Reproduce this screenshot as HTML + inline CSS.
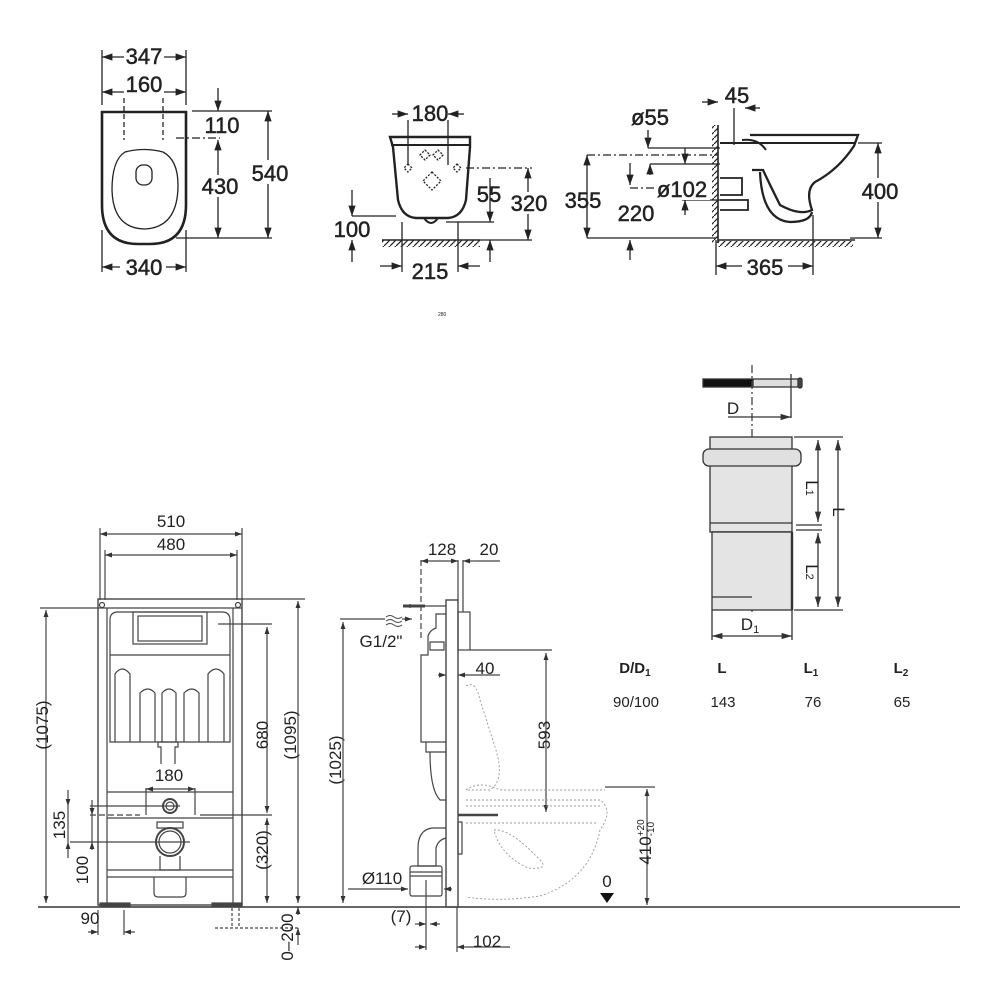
<!DOCTYPE html>
<html><head><meta charset="utf-8"><style>
html,body{margin:0;padding:0;background:#fff}
svg{display:block}
text{font-family:"Liberation Sans",Arial,sans-serif;fill:#222}
.tp text{stroke:#222;stroke-width:0.5}
</style></head><body>
<svg width="1000" height="1000" viewBox="0 0 1000 1000" xmlns="http://www.w3.org/2000/svg">
<defs>
<marker id="a" viewBox="0 0 10 10" refX="10" refY="5" markerWidth="8" markerHeight="8" orient="auto-start-reverse"><path d="M0,1.5L10,5L0,8.5z" fill="#222"/></marker>
<marker id="b" viewBox="0 0 10 10" refX="10" refY="5" markerWidth="6" markerHeight="6" orient="auto-start-reverse"><path d="M0,1.5L10,5L0,8.5z" fill="#333"/></marker>
<marker id="c" viewBox="0 0 10 10" refX="10" refY="5" markerWidth="8" markerHeight="8" orient="auto-start-reverse"><path d="M0,2L10,5L0,8z" fill="#333"/></marker>
<pattern id="h" width="6" height="6" patternUnits="userSpaceOnUse"><path d="M0,6L6,0" stroke="#222" stroke-width="1.2"/></pattern>
</defs>

<!-- ===== TOP LEFT: plan view ===== -->
<g stroke="#222" fill="none" stroke-width="1.3">
<path d="M102,112 H186 V205 Q186,244 150,244 H138 Q102,244 102,205 Z" stroke-width="2.6"/>
<path d="M125,152 Q144,147 163,152 Q178,160 178,185 Q178,228 144,229 Q113,228 112,190 Q112,160 125,152Z"/>
<rect x="136" y="165" width="16" height="20" rx="7"/>
<line x1="124" y1="98" x2="124" y2="140" stroke-dasharray="5,3"/>
<line x1="163" y1="98" x2="163" y2="140" stroke-dasharray="5,3"/>
<line x1="102" y1="50" x2="102" y2="105"/><line x1="186" y1="50" x2="186" y2="105"/>
<line x1="102" y1="57" x2="186" y2="57" marker-start="url(#a)" marker-end="url(#a)"/>
<line x1="102" y1="92" x2="186" y2="92" marker-start="url(#a)" marker-end="url(#a)"/>
<line x1="102" y1="230" x2="102" y2="272"/><line x1="186" y1="230" x2="186" y2="272"/>
<line x1="102" y1="267" x2="186" y2="267" marker-start="url(#a)" marker-end="url(#a)"/>
<line x1="192" y1="111" x2="272" y2="111"/><line x1="176" y1="138" x2="220" y2="138" stroke-dasharray="8,3,2,3"/>
<line x1="176" y1="238" x2="272" y2="238"/>
<line x1="218" y1="88" x2="218" y2="111" marker-end="url(#a)"/>
<line x1="218" y1="140" x2="218" y2="238" marker-start="url(#a)" marker-end="url(#a)"/>
<line x1="268" y1="111" x2="268" y2="238" marker-start="url(#a)" marker-end="url(#a)"/>
</g>
<g font-size="22" text-anchor="middle" class="tp">
<rect x="124" y="46" width="40" height="20" fill="#fff" stroke="none"/><text x="144" y="64">347</text>
<rect x="124" y="76" width="40" height="22" fill="#fff" stroke="none"/><text x="144" y="92">160</text>
<rect x="120" y="256" width="46" height="22" fill="#fff" stroke="none"/><text x="144" y="275">340</text>
<text x="222" y="133">110</text>
<rect x="200" y="175" width="40" height="22" fill="#fff" stroke="none"/><text x="220" y="194">430</text>
<rect x="248" y="160" width="44" height="24" fill="#fff" stroke="none"/><text x="270" y="181">540</text>
</g>

<!-- ===== TOP MIDDLE: front view ===== -->
<g stroke="#222" fill="none" stroke-width="1.3">
<path d="M390,137 H470 V147 L466,200 Q462,217 448,218 H416 Q402,217 398,200 L393,147 Z" stroke-width="2.4"/>
<line x1="391" y1="145" x2="470" y2="145" stroke-width="2"/>
<path d="M424,218 Q431,228 438,218" stroke-width="2"/>
<path d="M425,150 l5,5 l-5,5 l-5,-5z M438,150 l5,5 l-5,5 l-5,-5z M408,164 l4,4 l-4,4 l-4,-4z M457,164 l4,4 l-4,4 l-4,-4z M432,172 l9,9 l-9,9 l-9,-9z" stroke-dasharray="2,1.5"/>
<line x1="408" y1="120" x2="408" y2="165"/><line x1="448" y1="120" x2="448" y2="165"/>
<line x1="392" y1="114" x2="408" y2="114" marker-end="url(#a)"/><line x1="464" y1="114" x2="448" y2="114" marker-end="url(#a)"/>
<line x1="466" y1="168" x2="532" y2="168" stroke-dasharray="8,3,2,3"/>
<line x1="352" y1="216" x2="396" y2="216"/>
<line x1="446" y1="222" x2="494" y2="222"/>
<line x1="382" y1="240" x2="480" y2="240" stroke-width="1.5"/>
<rect x="382" y="240" width="98" height="7" fill="url(#h)" stroke="none"/>
<line x1="480" y1="240" x2="532" y2="240"/>
<line x1="352" y1="190" x2="352" y2="216" marker-end="url(#a)"/><line x1="352" y1="262" x2="352" y2="240" marker-end="url(#a)"/>
<line x1="490" y1="178" x2="490" y2="222" marker-end="url(#a)"/><line x1="490" y1="262" x2="490" y2="240" marker-end="url(#a)"/>
<line x1="528" y1="168" x2="528" y2="240" marker-start="url(#a)" marker-end="url(#a)"/>
<line x1="402" y1="222" x2="402" y2="272"/><line x1="458" y1="222" x2="458" y2="272"/>
<line x1="380" y1="266" x2="402" y2="266" marker-end="url(#a)"/><line x1="480" y1="266" x2="458" y2="266" marker-end="url(#a)"/>
</g>
<g font-size="22" text-anchor="middle" class="tp">
<text x="430" y="121">180</text>
<text x="489" y="202">55</text>
<rect x="506" y="192" width="46" height="22" fill="#fff" stroke="none"/><text x="529" y="211">320</text>
<text x="352" y="237">100</text>
<text x="430" y="279">215</text>
</g>

<!-- ===== TOP RIGHT: side view ===== -->
<g stroke="#222" fill="none" stroke-width="1.3">
<line x1="718" y1="125" x2="718" y2="243" stroke-width="1.6"/>
<rect x="712" y="125" width="6" height="118" fill="url(#h)" stroke="none"/>
<line x1="718" y1="240" x2="855" y2="240" stroke-width="1.6"/>
<rect x="718" y="241" width="135" height="6" fill="url(#h)" stroke="none"/>
<path d="M750,135 H858 L854,146 Q838,170 815,182 Q805,190 812,210 Q800,216 780,205 Q770,185 763,170 H752" stroke-width="2.3"/>
<path d="M742,140 Q758,138 766,150" stroke-width="2"/>
<path d="M720,143 H855" stroke-width="2"/>
<path d="M760,172 Q762,220 790,222 Q810,222 812,212" stroke-width="2.3"/>
<path d="M720,178 H742 V195 H720" stroke-width="1.8"/>
<path d="M720,200 H748 V210 H720" stroke-width="1.8"/>
<line x1="648" y1="148" x2="720" y2="148"/><line x1="648" y1="130" x2="648" y2="148" marker-end="url(#a)"/>
<line x1="587" y1="155" x2="718" y2="155" stroke-dasharray="8,3,2,3"/>
<line x1="630" y1="188" x2="660" y2="188" stroke-dasharray="8,3,2,3"/>
<line x1="650" y1="164" x2="720" y2="164"/><line x1="682" y1="200" x2="720" y2="200"/>
<line x1="630" y1="163" x2="630" y2="185" marker-end="url(#a)"/><line x1="650" y1="175" x2="650" y2="164" marker-end="url(#a)"/>
<line x1="685" y1="148" x2="685" y2="164" marker-end="url(#a)"/><line x1="685" y1="215" x2="685" y2="200" marker-end="url(#a)"/>
<line x1="587" y1="238" x2="716" y2="238"/>
<line x1="587" y1="155" x2="587" y2="238" marker-start="url(#a)" marker-end="url(#a)"/>
<line x1="630" y1="260" x2="630" y2="240" marker-end="url(#a)"/>
<line x1="734" y1="108" x2="734" y2="145"/>
<line x1="702" y1="102" x2="718" y2="102" marker-end="url(#a)"/><line x1="760" y1="108" x2="745" y2="108" marker-end="url(#a)"/>
<line x1="858" y1="143" x2="882" y2="143"/><line x1="850" y1="238" x2="882" y2="238"/>
<line x1="878" y1="143" x2="878" y2="238" marker-start="url(#a)" marker-end="url(#a)"/>
<line x1="716" y1="240" x2="716" y2="275"/><line x1="813" y1="215" x2="813" y2="275"/>
<line x1="716" y1="266" x2="813" y2="266" marker-start="url(#a)" marker-end="url(#a)"/>
</g>
<g font-size="22" text-anchor="middle" class="tp">
<text x="650" y="125">ø55</text>
<text x="737" y="103">45</text>
<rect x="656" y="180" width="54" height="20" fill="#fff" stroke="none"/><text x="682" y="197">ø102</text>
<text x="583" y="208">355</text>
<text x="636" y="221">220</text>
<rect x="858" y="178" width="44" height="24" fill="#fff" stroke="none"/><text x="880" y="199">400</text>
<rect x="742" y="256" width="46" height="22" fill="#fff" stroke="none"/><text x="765" y="275">365</text>
</g>
<text x="438" y="316" font-size="5" fill="#bbb">280</text>

<!-- ===== PIPE ===== -->
<g stroke="#333" fill="none" stroke-width="1.3">
<rect x="703" y="379" width="50" height="8" fill="#111"/>
<rect x="753" y="379" width="48" height="8" fill="#ddd"/>
<rect x="798" y="378" width="4" height="10" rx="2" fill="#444"/>
<line x1="752" y1="365" x2="752" y2="612" stroke-dasharray="8,3,2,3" stroke="#444"/>
<line x1="791" y1="374" x2="791" y2="418"/>
<line x1="728" y1="417" x2="791" y2="417" marker-end="url(#c)"/>
<rect x="710" y="437" width="82" height="95" fill="#e4e4e4"/>
<rect x="703" y="449" width="98" height="17" rx="6" fill="#e0e0e0"/>
<line x1="710" y1="523" x2="792" y2="523"/><line x1="712" y1="532" x2="792" y2="532"/>
<rect x="712" y="532" width="80" height="78" fill="#e4e4e4"/>
<line x1="712" y1="597" x2="752" y2="597"/>
<line x1="792" y1="532" x2="792" y2="610" stroke-width="2.4"/>
<line x1="712" y1="610" x2="712" y2="640"/><line x1="792" y1="610" x2="792" y2="640"/>
<line x1="712" y1="636" x2="792" y2="636" marker-start="url(#c)" marker-end="url(#c)"/>
<line x1="794" y1="437" x2="843" y2="437"/><line x1="794" y1="610" x2="843" y2="610"/>
<line x1="796" y1="525" x2="822" y2="525"/><line x1="796" y1="530" x2="822" y2="530"/>
<line x1="818" y1="440" x2="818" y2="522" marker-start="url(#c)" marker-end="url(#c)"/>
<line x1="818" y1="533" x2="818" y2="607" marker-start="url(#c)" marker-end="url(#c)"/>
<line x1="838" y1="440" x2="838" y2="607" marker-start="url(#c)" marker-end="url(#c)"/>
</g>
<g font-size="17" fill="#333" text-anchor="middle">
<text x="733" y="414">D</text>
<text x="750" y="630">D<tspan font-size="11" dy="3">1</tspan></text>
<text x="806" y="488" transform="rotate(90 806 488)">L<tspan font-size="11">1</tspan></text>
<text x="806" y="572" transform="rotate(90 806 572)">L<tspan font-size="11">2</tspan></text>
<text x="833" y="512" transform="rotate(90 833 512)">L</text>
</g>
<g font-size="15" text-anchor="middle">
<text x="635" y="673" font-weight="bold">D/D<tspan font-size="10" dy="3">1</tspan></text>
<text x="722" y="673" font-weight="bold">L</text>
<text x="811" y="673" font-weight="bold">L<tspan font-size="10" dy="3">1</tspan></text>
<text x="901" y="673" font-weight="bold">L<tspan font-size="10" dy="3">2</tspan></text>
<text x="636" y="707" fill="#555">90/100</text>
<text x="723" y="707" fill="#555">143</text>
<text x="813" y="707" fill="#555">76</text>
<text x="902" y="707" fill="#555">65</text>
</g>

<!-- ===== FRAME FRONT ===== -->
<line x1="38" y1="907" x2="960" y2="907" stroke="#333" stroke-width="1.6"/>
<g stroke="#444" fill="none" stroke-width="1.2">
<line x1="100" y1="528" x2="100" y2="600"/><line x1="242" y1="528" x2="242" y2="600"/>
<line x1="105" y1="550" x2="105" y2="600"/><line x1="237" y1="550" x2="237" y2="600"/>
<line x1="100" y1="534" x2="242" y2="534" marker-start="url(#b)" marker-end="url(#b)"/>
<line x1="105" y1="555" x2="237" y2="555" marker-start="url(#b)" marker-end="url(#b)"/>
<rect x="98" y="599" width="144" height="306" stroke-width="1.4"/>
<line x1="107" y1="608" x2="107" y2="905"/><line x1="233" y1="608" x2="233" y2="905"/>
<line x1="98" y1="608" x2="242" y2="608"/>
<circle cx="102" cy="605" r="2.5"/><circle cx="238" cy="605" r="2.5"/>
<path d="M110,742 V620 Q110,612 118,612 H222 Q230,612 230,620 V742 Z"/>
<rect x="133" y="612" width="74" height="32"/><rect x="138" y="616" width="64" height="25"/>
<line x1="110" y1="655" x2="230" y2="655"/>
<path d="M115,742 V674 Q122,664 130,674 V742 M140,742 V693 Q148,685 155,693 V742 M162,742 V693 Q169,685 176,693 V742 M184,742 V693 Q192,685 199,693 V742 M208,742 V674 Q216,664 224,674 V742"/>
<path d="M158,742 h20 v5 h-3 v20 h-14 v-20 h-3z"/>
<line x1="107" y1="792" x2="233" y2="792"/><line x1="107" y1="818" x2="233" y2="818"/>
<line x1="107" y1="870" x2="233" y2="870"/><line x1="107" y1="877" x2="233" y2="877"/>
<circle cx="170" cy="806" r="7" stroke-width="2"/><circle cx="170" cy="806" r="4"/>
<circle cx="170" cy="842" r="14" stroke-width="2"/><circle cx="170" cy="842" r="11"/>
<path d="M157,822 h26 v6 h-26z M160,856 v14 h20 v-14"/>
<path d="M154,877 v16 q0,4 4,4 h24 q4,0 4,-4 v-16"/>
<rect x="100" y="903" width="30" height="4" fill="#444"/><rect x="212" y="903" width="30" height="4" fill="#444"/>
<line x1="146" y1="788" x2="146" y2="815"/><line x1="195" y1="788" x2="195" y2="815"/>
<line x1="146" y1="789" x2="195" y2="789" marker-start="url(#b)" marker-end="url(#b)"/>
<line x1="90" y1="815" x2="140" y2="815" stroke-dasharray="6,3"/><line x1="200" y1="815" x2="272" y2="815"/>
<line x1="90" y1="806" x2="180" y2="806"/>
<line x1="70" y1="842" x2="190" y2="842"/>
<line x1="40" y1="608" x2="98" y2="608"/>
<line x1="46" y1="610" x2="46" y2="903" marker-start="url(#b)" marker-end="url(#b)"/>
<line x1="68" y1="790" x2="68" y2="806" marker-end="url(#b)"/><line x1="68" y1="858" x2="68" y2="842" marker-end="url(#b)"/>
<line x1="92" y1="800" x2="92" y2="815" marker-end="url(#b)"/><line x1="92" y1="850" x2="92" y2="842" marker-end="url(#b)"/>
<line x1="92" y1="815" x2="92" y2="842"/><line x1="68" y1="806" x2="68" y2="842"/>
<line x1="218" y1="624" x2="272" y2="624"/>
<line x1="267" y1="627" x2="267" y2="813" marker-start="url(#b)" marker-end="url(#b)"/>
<line x1="267" y1="818" x2="267" y2="903" marker-start="url(#b)" marker-end="url(#b)"/>
<line x1="242" y1="599" x2="305" y2="599"/>
<line x1="298" y1="601" x2="298" y2="903" marker-start="url(#b)" marker-end="url(#b)"/>
<line x1="98" y1="910" x2="98" y2="935"/><line x1="124" y1="910" x2="124" y2="935"/>
<line x1="88" y1="932" x2="98" y2="932" marker-end="url(#b)"/><line x1="135" y1="932" x2="124" y2="932" marker-end="url(#b)"/>
<line x1="232" y1="908" x2="232" y2="928" stroke-dasharray="3,2"/><line x1="239" y1="908" x2="239" y2="928" stroke-dasharray="3,2"/>
<line x1="215" y1="928" x2="300" y2="928" stroke-dasharray="3,2"/>
<line x1="298" y1="915" x2="298" y2="907" marker-end="url(#b)"/><line x1="298" y1="945" x2="298" y2="928" marker-end="url(#b)"/>
</g>
<g font-size="17" text-anchor="middle" fill="#222">
<text x="171" y="527">510</text>
<text x="171" y="550">480</text>
<rect x="150" y="764" width="40" height="20" fill="#fff"/><text x="169" y="781">180</text>
<text x="90" y="924">90</text>
<g transform="rotate(-90)">
<text x="-725" y="48">(1075)</text>
<text x="-735" y="268">680</text>
<text x="-735" y="296">(1095)</text>
<text x="-760" y="341">(1025)</text>
<text x="-825" y="65">135</text>
<text x="-870" y="88">100</text>
<text x="-850" y="268">(320)</text>
<text x="-937" y="293">0–200</text>
</g>
</g>

<!-- ===== FRAME SIDE ===== -->
<g stroke="#444" fill="none" stroke-width="1.2">
<line x1="421" y1="560" x2="421" y2="640" stroke-dasharray="6,3"/>
<line x1="458" y1="560" x2="458" y2="600"/><line x1="463" y1="560" x2="463" y2="612"/>
<line x1="421" y1="561" x2="458" y2="561" marker-start="url(#b)" marker-end="url(#b)"/>
<line x1="476" y1="561" x2="463" y2="561" marker-end="url(#b)"/><line x1="500" y1="561" x2="476" y2="561"/>
<rect x="446" y="600" width="12" height="307" stroke-width="1.4"/>
<rect x="458" y="612" width="12" height="38"/>
<path d="M403,606 H446 M410,604 v4"/>
<line x1="403" y1="606" x2="425" y2="606" stroke-width="3"/>
<path d="M446,614 H436 V628 Q430,630 428,636 V655 H421 V742 H446"/>
<path d="M430,642 h14 v8 h-14z"/>
<path d="M426,742 v10 h20 M430,752 Q430,790 440,800 h6"/>
<path d="M446,828 H432 Q418,830 418,848 V866 H436 V848 Q438,840 446,838"/>
<rect x="410" y="866" width="32" height="30" rx="2"/>
<line x1="410" y1="872" x2="442" y2="872"/><line x1="410" y1="876" x2="442" y2="876"/>
<rect x="458" y="822" width="4" height="32"/>
<line x1="458" y1="815" x2="498" y2="815" stroke-width="2.5"/>
<path d="M386,617 q4,-3 8,0 q4,3 8,0 M386,621 q4,-3 8,0 q4,3 8,0 M386,625 q4,-3 8,0 q4,3 8,0" stroke-width="0.9"/>
<line x1="402" y1="619" x2="412" y2="619" marker-end="url(#b)"/>
<line x1="340" y1="619" x2="385" y2="619"/>
<line x1="343" y1="622" x2="343" y2="903" marker-start="url(#b)" marker-end="url(#b)"/>
<line x1="438" y1="675" x2="446" y2="675" marker-end="url(#b)"/><line x1="476" y1="675" x2="458" y2="675" marker-end="url(#b)"/><line x1="476" y1="675" x2="500" y2="675"/>
<line x1="470" y1="650" x2="552" y2="650"/>
<line x1="546" y1="653" x2="546" y2="812" marker-start="url(#b)" marker-end="url(#b)"/>
<line x1="348" y1="889" x2="408" y2="889" marker-end="url(#b)"/><line x1="452" y1="889" x2="444" y2="889" marker-end="url(#b)"/>
<line x1="426" y1="880" x2="426" y2="950"/><line x1="457" y1="907" x2="457" y2="952"/>
<line x1="415" y1="924" x2="426" y2="924" marker-end="url(#b)"/><line x1="440" y1="924" x2="430" y2="924" marker-end="url(#b)"/>
<line x1="415" y1="947" x2="426" y2="947" marker-end="url(#b)"/><line x1="468" y1="947" x2="457" y2="947" marker-end="url(#b)"/><line x1="468" y1="947" x2="510" y2="947"/>
<line x1="605" y1="787" x2="655" y2="787"/>
<line x1="647" y1="789" x2="647" y2="905" marker-start="url(#b)" marker-end="url(#b)"/>
</g>
<g stroke="#999" fill="none" stroke-width="0.9" stroke-dasharray="2,2">
<path d="M466,686 Q476,680 480,700 L496,750 Q505,780 490,790 H466 M466,800 H600 Q614,810 600,830 Q590,880 540,896 Q500,902 466,897"/>
<path d="M466,790 Q480,780 500,790 H605 M466,806 H600 M466,823 H598"/>
<path d="M494,830 Q510,828 540,860 Q550,870 528,868 Q500,855 494,830Z"/>
</g>
<path d="M600,893 h14 l-7,10z" fill="#111"/>
<g font-size="17" text-anchor="middle" fill="#222">
<text x="442" y="555">128</text>
<text x="489" y="555">20</text>
<text x="381" y="647">G1/2"</text>
<text x="485" y="674">40</text>
<text x="382" y="884">Ø110</text>
<text x="401" y="922">(7)</text>
<text x="487" y="947">102</text>
<text x="607" y="887">0</text>
<g transform="rotate(-90)">
<text x="-735" y="550">593</text>
<text x="-842" y="651">410<tspan font-size="10" dy="-7">+20</tspan><tspan font-size="10" dx="-17" dy="10">-10</tspan></text>
</g>
</g>
</svg>
</body></html>
